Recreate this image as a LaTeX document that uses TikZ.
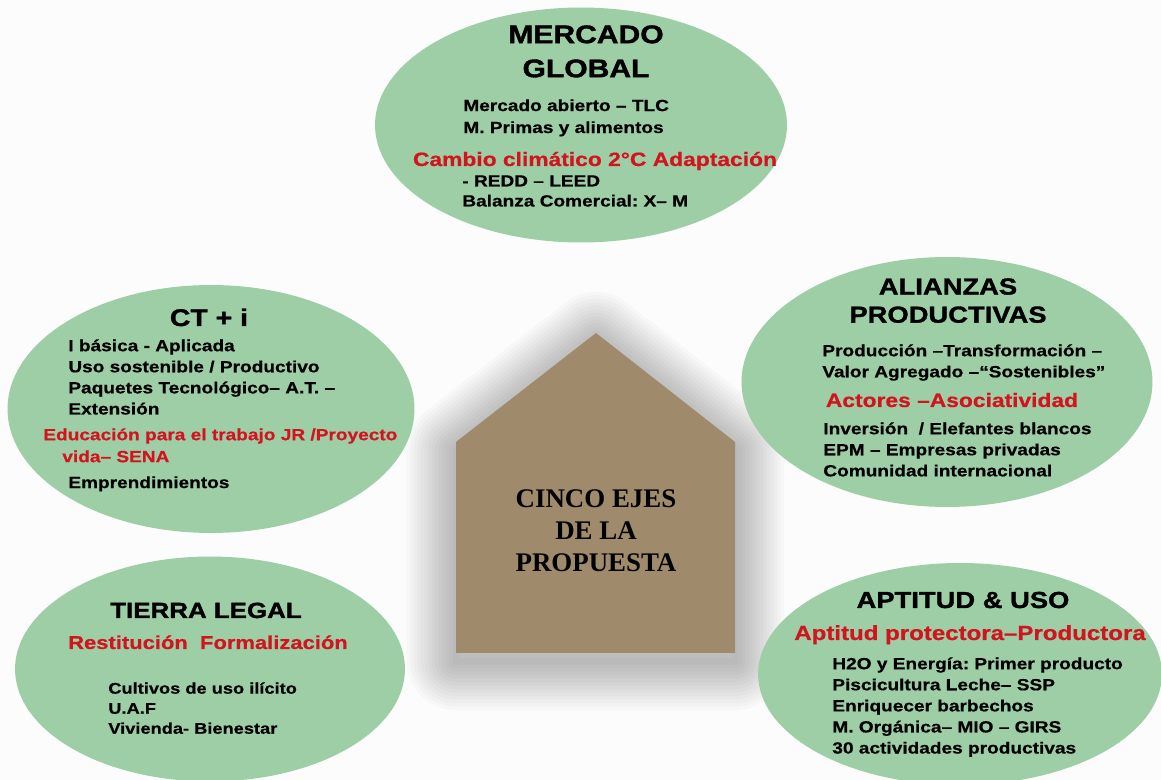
\documentclass[tikz,border=0pt]{standalone}
\usepackage{fontspec}
\setmainfont{Liberation Sans}[FakeStretch=1.18, BoldFeatures={FakeBold=0.6}]
\newfontfamily\titulofont{Liberation Sans}[UprightFont=* Bold, FakeStretch=1.18, FakeBold=1.4]
\newfontfamily\casafont{Liberation Serif}
\usepackage{tikz}
\usetikzlibrary{shapes.geometric}
\definecolor{ejeverde}{RGB}{158,206,166}
\definecolor{casafondo}{RGB}{160,138,108}
\definecolor{rojotexto}{RGB}{210,20,30}
\definecolor{fondo}{RGB}{252,252,252}
\frenchspacing

\begin{document}
\begin{tikzpicture}[
        x=0.02cm,
        y=-0.02cm,
        eje/.style={ellipse, fill=ejeverde, inner sep=0pt},
        titulo/.style={font=\titulofont\fontsize{13.2}{16}\selectfont, align=center, inner sep=0pt},
        lista/.style={font=\bfseries\fontsize{9.2}{12}\selectfont, align=left, anchor=north west, inner sep=0pt},
        aviso/.style={text=rojotexto, font=\bfseries\fontsize{11}{13}\selectfont, anchor=base, inner sep=0pt}
    ]
    \useasboundingbox (0,0) rectangle (1161,780);
    \fill[fondo] (0,0) rectangle (1161,780);

    % House shadow first, so the ellipses stay clean
    \def\casapath{(456,442) -- (596,333) -- (735,442) -- (735,653) -- (456,653) -- cycle}
    \begin{scope}[shift={(0,8)}]
        \foreach \w in {4,8,...,56}
            \draw[black, opacity=0.018, line width=\w pt, line join=round] \casapath;
    \end{scope}

    % The five axes
    \node[eje, minimum width=8.24cm, minimum height=4.7cm] (mercado) at (581,125) {};
    \node[eje, minimum width=8.14cm, minimum height=4.96cm] (ctei) at (211,409) {};
    \node[eje, minimum width=8.22cm, minimum height=5cm] (alianzas) at (947,382) {};
    \node[eje, minimum width=7.8cm, minimum height=4.5cm] (tierra) at (210,669) {};
    \node[eje, minimum width=8.08cm, minimum height=4.44cm] (aptitud) at (960,674) {};

    % House
    \fill[casafondo] \casapath;
    \node[font=\casafont\bfseries\fontsize{15.3}{18.2}\selectfont, align=center, inner sep=0pt] (casa) at (596,531) {CINCO EJES\\DE LA\\PROPUESTA};

    % Mercado global
    \node[titulo, anchor=north, font=\titulofont\fontsize{14.5}{19.4}\selectfont] (mercadoTit) at (586,25) {MERCADO\\GLOBAL};
    \node[lista, font=\bfseries\fontsize{9.2}{12.5}\selectfont] (mercadoA) at (463,99) {Mercado abierto – TLC\\M. Primas y alimentos};
    \node[aviso] (mercadoB) at (595,166) {Cambio climático 2°C Adaptación};
    \node[lista, font=\bfseries\fontsize{9.2}{11.4}\selectfont] (mercadoC) at (462,175) {- REDD – LEED\\Balanza Comercial: X– M};

    % CT + i
    \node[titulo, anchor=base, font=\titulofont\fontsize{13.7}{16}\selectfont] (cteiTit) at (209,326) {CT + i};
    \node[lista] (cteiA) at (68,339) {I básica - Aplicada\\Uso sostenible / Productivo\\Paquetes Tecnológico– A.T. –\\Extensión};
    \node[lista, text=rojotexto, font=\bfseries\fontsize{9.2}{12.5}\selectfont] (cteiB) at (43,428) {Educación para el trabajo JR /Proyecto\\\hspace*{0.38cm}vida– SENA};
    \node[lista] (cteiC) at (68,476) {Emprendimientos};

    % Alianzas productivas
    \node[titulo, anchor=north] (alianzasTit) at (948,278) {ALIANZAS\\PRODUCTIVAS};
    \node[lista] (alianzasA) at (822,344) {Producción –Transformación –\\Valor Agregado –“Sostenibles”};
    \node[aviso] (alianzasB) at (952,407) {Actores –Asociatividad};
    \node[lista] (alianzasC) at (823,422) {Inversión \ / Elefantes blancos\\EPM – Empresas privadas\\Comunidad internacional};

    % Tierra legal
    \node[titulo, anchor=base, font=\titulofont\fontsize{12.5}{15}\selectfont] (tierraTit) at (206,618) {TIERRA LEGAL};
    \node[aviso, font=\bfseries\fontsize{10.6}{13}\selectfont] (tierraB) at (208,649) {Restitución \ Formalización};
    \node[lista, font=\bfseries\fontsize{8.8}{11.4}\selectfont] (tierraA) at (108,682) {Cultivos de uso ilícito\\U.A.F\\Vivienda- Bienestar};

    % Aptitud y uso
    \node[titulo, anchor=base] (aptitudTit) at (963,608) {APTITUD \& USO};
    \node[aviso, font=\bfseries\fontsize{11.6}{14}\selectfont] (aptitudB) at (970,640) {Aptitud protectora–Productora};
    \node[lista] (aptitudA) at (832,657) {H2O y Energía: Primer producto\\Piscicultura Leche– SSP\\Enriquecer barbechos\\M. Orgánica– MIO – GIRS\\30 actividades productivas};
\end{tikzpicture}
\end{document}
